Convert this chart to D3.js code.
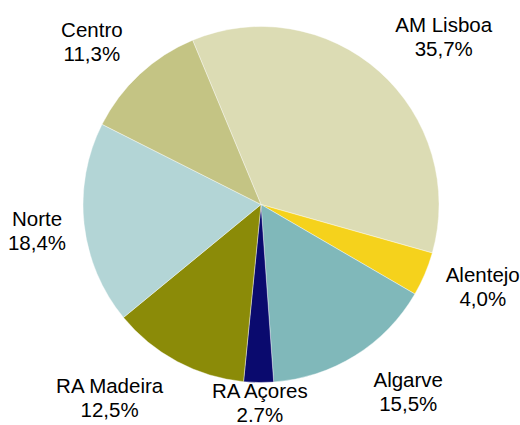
<!DOCTYPE html>
<html><head><meta charset="utf-8">
<script src="https://cdn.jsdelivr.net/npm/d3@7"></script>
<style>html,body{margin:0;padding:0;background:#fff;}svg{display:block;}</style>
</head><body>
<svg id="chart" width="520" height="425"></svg>
<script>
const categories = ["AM Lisboa","Alentejo","Algarve","RA Açores","RA Madeira","Norte","Centro"];
const values = [35.7, 4.0, 15.5, 2.7, 12.5, 18.4, 11.3];
const valueLabels = ["35,7%","4,0%","15,5%","2.7%","12,5%","18,4%","11,3%"];
const colors = ["#DCDCB4","#F5D21C","#80B8BA","#0A0A6E","#8B8B08","#B3D5D6","#C4C484"];
// label nudges (layout only)
const nudges = [[30,4.5],[10,-7],[25.5,-8],[2,-31.5],[-43,-9],[4.6,1.3],[-12.5,6]];

const svg = d3.select("#chart");
const cx = 261, cy = 204.5, r = 178;
const g = svg.append("g").attr("transform", `translate(${cx},${cy})`);
const startA = -22.6 * Math.PI/180;
const pie = d3.pie().sort(null).startAngle(startA).endAngle(startA + 2*Math.PI);
const arcs = pie(values);
const arc = d3.arc().innerRadius(0).outerRadius(r);
const labelArc = d3.arc().innerRadius(230).outerRadius(230);

g.selectAll("path").data(arcs).join("path")
  .attr("d", arc)
  .attr("fill", (d,i) => colors[i])
  .attr("stroke", "#ffffff")
  .attr("stroke-width", 0.4);

const labels = g.selectAll("text.lbl").data(arcs).join("text")
  .attr("class","lbl")
  .attr("text-anchor","middle")
  .attr("font-family","'Liberation Sans', Arial, sans-serif")
  .attr("font-size","20.5px")
  .attr("fill","#000")
  .attr("transform", (d,i) => {
    const c = labelArc.centroid(d);
    return `translate(${c[0]+nudges[i][0]},${c[1]+nudges[i][1]})`;
  });
labels.append("tspan").attr("x",0).attr("y",-5).text((d,i)=>categories[i]);
labels.append("tspan").attr("x",0).attr("y",19).text((d,i)=>valueLabels[i]);
</script>
</body></html>
